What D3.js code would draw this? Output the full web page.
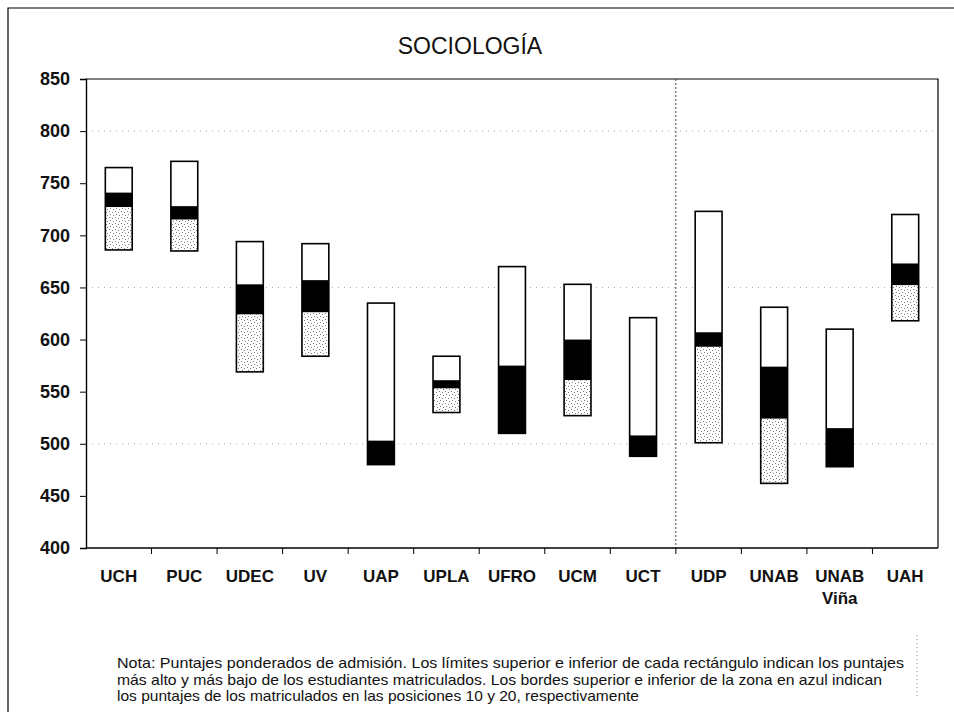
<!DOCTYPE html>
<html>
<head>
<meta charset="utf-8">
<script src="https://cdn.jsdelivr.net/npm/d3@7"></script>
<style>
  html, body { margin: 0; padding: 0; background: #fff; }
  svg { display: block; font-family: "Liberation Sans", Arial, sans-serif; }
</style>
</head>
<body>
<svg id="chart" width="954" height="723"></svg>
<script>
// ---- Data ----
const title = "SOCIOLOGÍA";
const categories = ["UCH","PUC","UDEC","UV","UAP","UPLA","UFRO","UCM","UCT","UDP","UNAB","UNAB Viña","UAH"];
const maxScore = [765, 771, 694, 692, 635, 584, 670, 653, 621, 723, 631, 610, 720];
const pos10    = [741, 728, 653, 657, 503, 561, 575, 600, 508, 607, 574, 515, 673];
const pos20    = [727, 715, 624, 626, 480, 553, 510, 561, 488, 593, 524, 478, 652];
const minScore = [686, 685, 569, 584, 480, 530, 510, 527, 488, 501, 462, 478, 618];
const yTicks = [400, 450, 500, 550, 600, 650, 700, 750, 800, 850];
const gridValues = [500, 650, 800];
const dividerAfter = "UCT";
const noteLines = [
  "Nota: Puntajes ponderados de admisión. Los límites superior e inferior de cada rectángulo indican los puntajes",
  "más alto y más bajo de los estudiantes matriculados. Los bordes superior e inferior de la zona en azul indican",
  "los puntajes de los matriculados en las posiciones 10 y 20, respectivamente"
];
const noteWidths = [787, 765, 522];

// ---- Layout ----
const svg = d3.select("#chart");
const plot = { left: 86, right: 938, top: 79, bottom: 548 };

const y = d3.scaleLinear().domain([400, 850]).range([plot.bottom, plot.top]);
const x = d3.scaleBand().domain(categories).range([plot.left, plot.right])
  .paddingInner(0.59).paddingOuter(0.295);
const step = x.step();

// stipple pattern
const defs = svg.append("defs");
const pat = defs.append("pattern").attr("id", "stipple")
  .attr("patternUnits", "userSpaceOnUse").attr("width", 6).attr("height", 6);
pat.append("rect").attr("width", 6).attr("height", 6).attr("fill", "#fff");
[[1,1],[4,2],[2,4],[5,5]].forEach(([px, py]) =>
  pat.append("rect").attr("x", px).attr("y", py).attr("width", 1).attr("height", 1).attr("fill", "#777"));

// outer frame
svg.append("path").attr("d", "M8,712V8H954").attr("fill", "none")
  .attr("stroke", "#000").attr("stroke-width", 1.2);

// title
svg.append("text").attr("x", 470).attr("y", 54).attr("text-anchor", "middle")
  .attr("font-size", 23).attr("fill", "#111").text(title);

// gridlines
svg.append("g").selectAll("line").data(gridValues).join("line")
  .attr("x1", plot.left).attr("x2", plot.right)
  .attr("y1", d => y(d)).attr("y2", d => y(d))
  .attr("stroke", "#aaa").attr("stroke-width", 1).attr("stroke-dasharray", "1,5");

// plot border (top & right)
svg.append("path")
  .attr("d", `M${plot.left},${plot.top}H${plot.right}V${plot.bottom}`)
  .attr("fill", "none").attr("stroke", "#000").attr("stroke-width", 1.2);

// divider
const dx = x(dividerAfter) + x.bandwidth() / 2 + step / 2;
svg.append("line").attr("x1", dx).attr("x2", dx).attr("y1", plot.top).attr("y2", plot.bottom)
  .attr("stroke", "#444").attr("stroke-width", 1).attr("stroke-dasharray", "2,2");

// Y axis
const yAxis = svg.append("g").attr("transform", `translate(${plot.left},0)`)
  .call(d3.axisLeft(y).tickValues(yTicks).tickSize(6).tickPadding(10).tickFormat(d3.format("d")));
yAxis.select(".domain").attr("stroke-width", 1.4);
yAxis.selectAll("text").attr("font-size", 18).attr("font-weight", "bold")
  .attr("fill", "#111").attr("font-family", "'Liberation Sans', Arial, sans-serif");

// X axis baseline & boundary ticks
const gx = svg.append("g");
gx.append("line").attr("x1", plot.left).attr("x2", plot.right)
  .attr("y1", plot.bottom).attr("y2", plot.bottom).attr("stroke", "#000").attr("stroke-width", 1.4);
gx.selectAll("line.tick").data(categories.slice(0, -1)).join("line").attr("class", "tick")
  .attr("x1", d => x(d) + x.bandwidth() / 2 + step / 2)
  .attr("x2", d => x(d) + x.bandwidth() / 2 + step / 2)
  .attr("y1", plot.bottom).attr("y2", plot.bottom + 6)
  .attr("stroke", "#000").attr("stroke-width", 1);
const lbl = gx.selectAll("text").data(categories).join("text")
  .attr("x", d => x(d) + x.bandwidth() / 2).attr("y", 582)
  .attr("text-anchor", "middle").attr("font-size", 17).attr("font-weight", "bold").attr("fill", "#111");
lbl.each(function(d) {
  const parts = d.split(" ");
  const t = d3.select(this);
  parts.forEach((p, i) => t.append("tspan").attr("x", x(d) + x.bandwidth() / 2)
    .attr("dy", i === 0 ? 0 : 22).text(p));
});

// Bars
const rows = categories.map((c, i) => ({ c, max: maxScore[i], p10: pos10[i], p20: pos20[i], min: minScore[i] }));
const bars = svg.append("g").selectAll("g").data(rows).join("g");
bars.append("rect").attr("x", d => x(d.c)).attr("width", x.bandwidth())
  .attr("y", d => y(d.max)).attr("height", d => y(d.p10) - y(d.max)).attr("fill", "#fff");
bars.append("rect").attr("x", d => x(d.c)).attr("width", x.bandwidth())
  .attr("y", d => y(d.p10)).attr("height", d => y(d.p20) - y(d.p10)).attr("fill", "#000");
bars.append("rect").attr("x", d => x(d.c)).attr("width", x.bandwidth())
  .attr("y", d => y(d.p20)).attr("height", d => y(d.min) - y(d.p20)).attr("fill", "url(#stipple)");
bars.append("rect").attr("x", d => x(d.c)).attr("width", x.bandwidth())
  .attr("y", d => y(d.max)).attr("height", d => y(d.min) - y(d.max))
  .attr("fill", "none").attr("stroke", "#000").attr("stroke-width", 1.6);

// Note
svg.append("g").selectAll("text").data(noteLines).join("text")
  .attr("x", 117).attr("y", (d, i) => 668 + i * 16.5)
  .attr("font-size", 15).attr("fill", "#111")
  .attr("textLength", (d, i) => noteWidths[i]).attr("lengthAdjust", "spacingAndGlyphs")
  .text(d => d);
svg.append("line").attr("x1", 917).attr("x2", 917).attr("y1", 635).attr("y2", 698)
  .attr("stroke", "#888").attr("stroke-dasharray", "1,3");
</script>
</body>
</html>
